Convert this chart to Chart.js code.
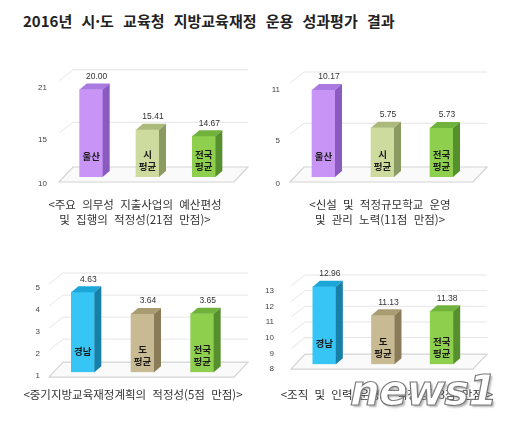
<!DOCTYPE html>
<html lang="ko">
<head>
<meta charset="UTF-8">
<title>2016년 시·도 교육청 지방교육재정 운용 성과평가 결과</title>
<style>
  * { margin: 0; padding: 0; }
  body { width: 520px; height: 426px; background: #fff; position: relative; overflow: hidden;
         font-family: 'Noto Sans CJK KR', 'Noto Sans', sans-serif; }
  .title { position: absolute; left: 23px; top: 10px; font-size: 15px; font-weight: bold; color: #222; word-spacing: 5px; white-space: nowrap; }
  .box { position: absolute; width: 260px; height: 140px; }
  .cap { position: absolute; width: 260px; text-align: center; font-size: 11.5px; color: #333; line-height: 15px; word-spacing: 3px; white-space: nowrap; }
  .mark { position: absolute; left: 350px; top: 366px; font-family: 'DejaVu Sans', sans-serif; font-size: 42px; font-weight: bold; font-style: italic;
          color: #fff; -webkit-text-stroke: 1.2px #7a7a7a; text-shadow: 2px 2px 2px rgba(90,90,90,0.45); letter-spacing: -1px; }
</style>
</head>
<body>
<div class="title">2016년 시·도 교육청 지방교육재정 운용 성과평가 결과</div>

<div class="box" style="left:0;top:60px"><canvas id="c1" width="260" height="140"></canvas></div>
<div class="box" style="left:260px;top:60px"><canvas id="c2" width="260" height="140"></canvas></div>
<div class="box" style="left:0;top:250px"><canvas id="c3" width="260" height="140"></canvas></div>
<div class="box" style="left:260px;top:250px"><canvas id="c4" width="260" height="140"></canvas></div>

<div class="cap" style="left:5px;top:197px">&lt;주요 의무성 지출사업의 예산편성<br>및 집행의 적정성(21점 만점)&gt;</div>
<div class="cap" style="left:250px;top:197px">&lt;신설 및 적정규모학교 운영<br>및 관리 노력(11점 만점)&gt;</div>
<div class="cap" style="left:3px;top:387px">&lt;중기지방교육재정계획의 적정성(5점 만점)&gt;</div>
<div class="cap" style="left:257px;top:387px">&lt;조직 및 인력 운영의 적정성(13점 만점)&gt;</div>
<div class="mark">news1</div>

<script src="https://cdn.jsdelivr.net/npm/chart.js@4.4.1/dist/chart.umd.min.js"></script>
<script>
// data
const cats1 = ['울산', '시\n평균', '전국\n평균'];
const vals1 = [20.00, 15.41, 14.67];
const ticks1 = [10, 15, 21];

const cats2 = ['울산', '시\n평균', '전국\n평균'];
const vals2 = [10.17, 5.75, 5.73];
const ticks2 = [0, 5, 11];

const cats3 = ['경남', '도\n평균', '전국\n평균'];
const vals3 = [4.63, 3.64, 3.65];
const ticks3 = [1, 2, 3, 4, 5];

const cats4 = ['경남', '도\n평균', '전국\n평균'];
const vals4 = [12.96, 11.13, 11.38];
const ticks4 = [8, 9, 10, 11, 12, 13];

// colours: front, top, side
const purple = ['#c895f7', '#aa7ae0', '#8a5ac0'];
const olive = ['#cddb9e', '#abba7a', '#8b9a60'];
const green = ['#8ed04e', '#70b23c', '#56902e'];
const cyan = ['#36c5f4', '#1ca6d8', '#1680a8'];
const tan = ['#c8ba93', '#a99b72', '#8a7c59'];

const DX = 7, DY = 6;     // bar depth
const WX = 14, WY = 11;   // wall depth

const bar3d = {
  id: 'bar3d',
  beforeDatasetsDraw(chart) {
    const ctx = chart.ctx, a = chart.chartArea, y = chart.scales.y;
    ctx.save();
    // floor
    const b = y.getPixelForValue(y.min);
    ctx.beginPath();
    ctx.moveTo(a.left - 4, b + 5);
    ctx.lineTo(a.right + 2, b + 5);
    ctx.lineTo(a.right + 2 + WX, b + 5 - WY - 4);
    ctx.lineTo(a.left - 4 + WX, b + 5 - WY - 4);
    ctx.closePath();
    ctx.fillStyle = '#fafafa';
    ctx.fill();
    ctx.strokeStyle = '#d4d4d4';
    ctx.lineWidth = 1.2;
    ctx.stroke();
    // back wall grid
    ctx.strokeStyle = '#e6e6e6';
    ctx.lineWidth = 1;
    y.ticks.forEach(t => {
      if (t.value === y.min) return;
      const p = y.getPixelForValue(t.value);
      ctx.beginPath();
      ctx.moveTo(a.left - 4, p);
      ctx.lineTo(a.left - 4 + WX, p - WY);
      ctx.lineTo(a.right + 2 + WX, p - WY);
      ctx.stroke();
    });
    ctx.restore();
  },
  afterDatasetsDraw(chart, args, opts) {
    const ctx = chart.ctx;
    const meta = chart.getDatasetMeta(0);
    const ds = chart.data.datasets[0];
    ctx.save();
    meta.data.forEach((el, i) => {
      const { x, y, base, width } = el.getProps(['x', 'y', 'base', 'width'], true);
      const l = x - width / 2, r = x + width / 2;
      const c = opts.colors[i];
      // top
      ctx.beginPath();
      ctx.moveTo(l, y); ctx.lineTo(l + DX, y - DY); ctx.lineTo(r + DX, y - DY); ctx.lineTo(r, y);
      ctx.closePath(); ctx.fillStyle = c[1]; ctx.fill();
      // side
      ctx.beginPath();
      ctx.moveTo(r, y); ctx.lineTo(r + DX, y - DY); ctx.lineTo(r + DX, base - DY); ctx.lineTo(r, base);
      ctx.closePath(); ctx.fillStyle = c[2]; ctx.fill();
      // value
      ctx.fillStyle = '#333';
      ctx.font = '8.5px "Liberation Sans", Arial, sans-serif';
      ctx.textAlign = 'center';
      ctx.textBaseline = 'middle';
      ctx.fillText(ds.data[i].toFixed(2), x + DX / 2 + 2, y - DY - 7);
      // name inside bar
      ctx.fillStyle = '#1a1a1a';
      ctx.font = 'bold 9.5px "Noto Sans CJK KR", sans-serif';
      const lines = chart.data.labels[i].split('\n');
      if (lines.length === 1) {
        ctx.fillText(lines[0], x, base - 21);
      } else {
        ctx.fillText(lines[0], x, base - 23);
        ctx.fillText(lines[1], x, base - 11);
      }
    });
    ctx.restore();
  }
};

function makeChart(id, cats, vals, ticks, colors, pad, axisW, tickPad, offs) {
  return new Chart(document.getElementById(id), {
    type: 'bar',
    data: {
      labels: cats,
      datasets: [{
        data: vals,
        base: ticks[0],
        backgroundColor: colors.map(c => c[0]),
        barThickness: 23
      }]
    },
    options: {
      responsive: false,
      animation: false,
      events: [],
      layout: { padding: pad },
      plugins: {
        legend: { display: false },
        tooltip: { enabled: false },
        bar3d: { colors: colors }
      },
      scales: {
        x: { display: false },
        y: {
          min: ticks[0],
          max: ticks[ticks.length - 1],
          afterBuildTicks: s => { s.ticks = ticks.map(v => ({ value: v })); },
          afterFit: s => { s.width = axisW; },
          grid: { display: false, drawTicks: false },
          border: { display: false },
          ticks: {
            padding: tickPad,
            labelOffset: offs,
            color: '#444',
            font: { family: '"Liberation Sans", Arial, sans-serif', size: 8 }
          }
        }
      }
    },
    plugins: [bar3d]
  });
}

makeChart('c1', cats1, vals1, ticks1, [purple, olive, green], { left: 0, right: 28, top: 19, bottom: 23 }, 63, 16, 7);
makeChart('c2', cats2, vals2, ticks2, [purple, olive, green], { left: 0, right: 49, top: 23, bottom: 23 }, 34, 14, 7);
makeChart('c3', cats3, vals3, ticks3, [cyan, tan, green], { left: 0, right: 28, top: 34, bottom: 17 }, 53, 13, 4);
makeChart('c4', cats4, vals4, ticks4, [cyan, tan, green], { left: 0, right: 49, top: 36, bottom: 15 }, 35, 21, 5);
</script>
</body>
</html>
